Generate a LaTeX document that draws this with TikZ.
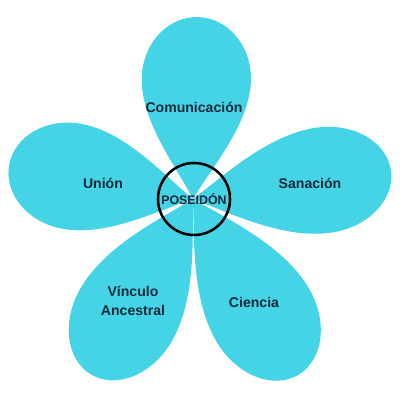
\documentclass[tikz,border=0pt]{standalone}
\usepackage{fontspec}
\setmainfont{Liberation Sans}
\definecolor{petalcyan}{HTML}{45D4E5}
\definecolor{labelnavy}{HTML}{13293D}

% petal with its tip in the centre: angle, length, half width (part of length)
\newcommand{\Petal}[3]{%
  \fill[petalfill, rotate=#1]
    (0,0) .. controls ({0.18*#2},{0.1*#2}) and ({0.42*#2},{#3*#2}) .. ({0.66*#2},{#3*#2})
    .. controls ({0.848*#2},{#3*#2}) and ({#2},{0.552*#3*#2}) .. ({#2},0)
    .. controls ({#2},{-0.552*#3*#2}) and ({0.848*#2},{-#3*#2}) .. ({0.66*#2},{-#3*#2})
    .. controls ({0.42*#2},{-#3*#2}) and ({0.18*#2},{-0.1*#2}) .. cycle;}

\begin{document}
\begin{tikzpicture}[x=0.025cm, y=0.025cm]
        \tikzset{petalfill/.style={fill=petalcyan},
        petallabel/.style={text=labelnavy, font=\bfseries\fontsize{10}{13.5}\selectfont, align=center},
        hub/.style={circle, draw=black, line width=1.8pt, minimum size=1.8cm, inner sep=0pt,
        text=labelnavy, font=\bfseries\fontsize{8.8}{10}\selectfont}}
        \useasboundingbox (-193,-201) rectangle (207,199);
        \Petal{88.4}{182}{0.30}
        \Petal{8.2}{200}{0.265}
        \Petal{169.4}{187}{0.285}
        \Petal{240}{203}{0.26}
        \Petal{301}{205}{0.26}
        \node[hub] (pos) at (1,0) {POSEIDÓN};
        \node[petallabel] (com) at (1,92) {Comunicación};
        \node[petallabel] (san) at (117,16) {Sanación};
        \node[petallabel] (uni) at (-90,16) {Unión};
        \node[petallabel] (vin) at (-60,-102) {Vínculo\\Ancestral};
        \node[petallabel] (cie) at (61,-103) {Ciencia};
    \end{tikzpicture}
\end{document}
